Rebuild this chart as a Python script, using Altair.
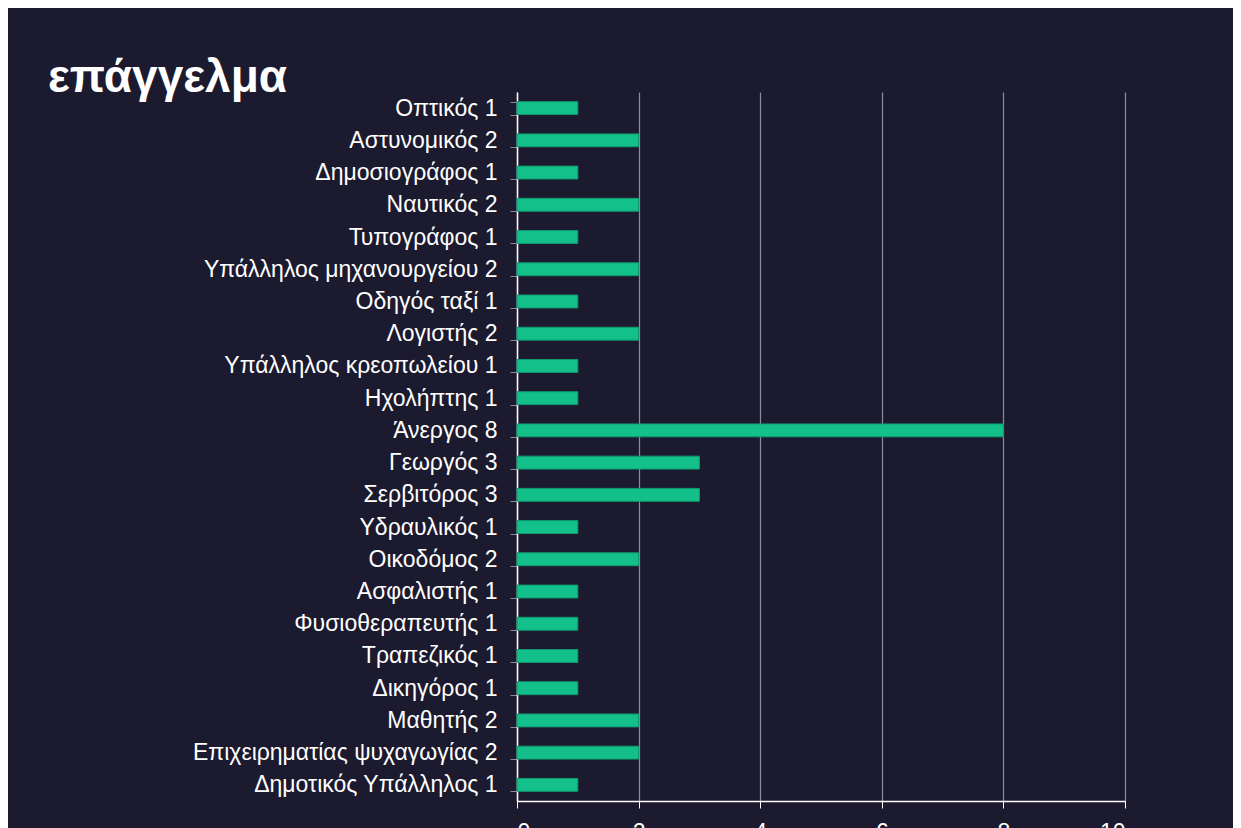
import altair as alt
import pandas as pd

labels = [
    "Οπτικός 1", "Αστυνομικός 2", "Δημοσιογράφος 1", "Ναυτικός 2", "Τυπογράφος 1",
    "Υπάλληλος μηχανουργείου 2", "Οδηγός ταξί 1", "Λογιστής 2", "Υπάλληλος κρεοπωλείου 1",
    "Ηχολήπτης 1", "Άνεργος 8", "Γεωργός 3", "Σερβιτόρος 3", "Υδραυλικός 1", "Οικοδόμος 2",
    "Ασφαλιστής 1", "Φυσιοθεραπευτής 1", "Τραπεζικός 1\u00a0", "Δικηγόρος 1", "Μαθητής 2",
    "Επιχειρηματίας ψυχαγωγίας 2", "Δημοτικός Υπάλληλος 1",
]
values = [1, 2, 1, 2, 1, 2, 1, 2, 1, 1, 8, 3, 3, 1, 2, 1, 1, 1, 1, 2, 2, 1]
x_ticks = [0, 2, 4, 6, 8, 10]

df = pd.DataFrame({"label": labels, "value": values})

FONT = "Liberation Sans, Arial, sans-serif"

chart = (
    alt.Chart(df)
    .mark_bar(color="#14c08a", stroke="#0f9a70", strokeWidth=1)
    .encode(
        x=alt.X(
            "value:Q",
            scale=alt.Scale(domain=[0, 10], nice=False),
            axis=alt.Axis(
                values=x_ticks, title=None, grid=True, gridColor="#8c8a9c", gridWidth=1.2,
                domainColor="#ffffff", domainWidth=1.5, tickColor="#ffffff", tickSize=7,
                labelColor="#ffffff", labelFontSize=23, labelFont=FONT, labelPadding=13,
            ),
        ),
        y=alt.Y(
            "label:N",
            sort=None,
            scale=alt.Scale(paddingInner=0.6, paddingOuter=0.3),
            axis=alt.Axis(
                title=None, tickBand="extent", tickColor="#8c8a9c", tickSize=7,
                domainColor="#ffffff", domainWidth=1.5,
                labelColor="#ffffff", labelFontSize=23, labelFont=FONT, labelPadding=13,
                labelLimit=600,
            ),
        ),
    )
    .properties(
        width=608,
        height=709,
        title=alt.TitleParams(
            "επάγγελμα", anchor="start", frame="group", font=FONT, fontSize=46,
            fontWeight="bold", color="#ffffff", dx=-469, dy=57, offset=0,
            baseline="alphabetic",
        ),
        background="#1c1a2e",
        padding={"left": 509, "top": 84, "right": 108, "bottom": 40},
        autosize=alt.AutoSizeParams(type="none"),
    )
    .configure_view(stroke=None)
)

chart.save("out.html", embed_options={"renderer": "svg", "actions": False})
